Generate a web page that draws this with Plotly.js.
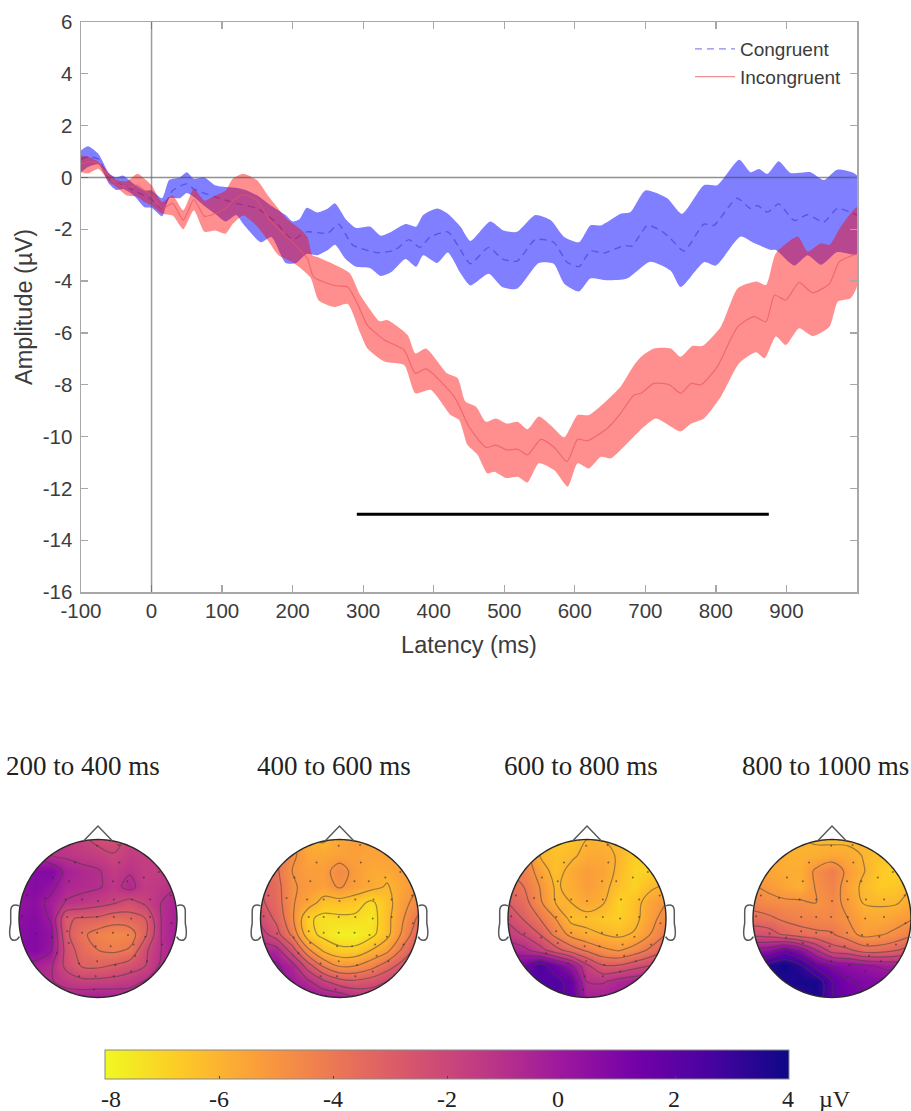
<!DOCTYPE html>
<html><head><meta charset="utf-8">
<script src="https://cdn.plot.ly/plotly-3.0.1.min.js"></script>
<style>html,body{margin:0;padding:0;background:#fff}#c{width:911px;height:1111px}</style>
</head><body><div id="c"></div>
<script>
// ---------- ERP waveforms (latency ms, amplitude µV) ----------
const congruentUpperT=[-100,-90,-75,-60,-50,-40,-25,-10,0,15,25,40,50,60,75,90,105,120,135,150,170,190,200,210,220,235,250,260,275,290,310,325,340,360,375,385,405,420,438,452,480,499,518,544,566,585,606,622,637,665,679,700,731,752,783,802,833,849,861,873,889,906,934,953,972,1000];
const congruentUpperV=[1.04,1.2,.9,.15,0,.07,-.25,-.5,-.5,-.8,-.1,0,.2,-.05,0,-.3,-.37,-.4,-.5,-.7,-1.1,-1.45,-1.7,-1.6,-1.17,-1.35,-1.2,-1,-1.6,-1.95,-1.9,-2.25,-2.1,-1.8,-1.9,-1.45,-1.2,-1.4,-1.9,-2.45,-1.7,-2.05,-2.1,-1.45,-1.65,-2.3,-2.5,-1.85,-1.85,-1.4,-1.33,-.5,-.8,-1.4,-.3,-.3,.68,.2,.33,.14,.63,.17,.2,-.1,.3,.08];
const congruentLowerT=[-100,-90,-75,-60,-50,-40,-25,-10,0,15,25,40,50,60,75,90,105,120,130,155,170,190,205,220,235,250,260,275,290,310,325,340,360,375,385,405,420,438,452,478,497,518,549,570,585,606,622,646,674,707,736,750,783,800,835,854,878,885,911,930,949,972,1000];
const congruentLowerV=[.2,.4,.5,-.25,-.48,-.45,-.7,-1.15,-1.17,-1.5,-.8,-.8,-.6,-.75,-1.1,-1.4,-1.7,-1.45,-1.8,-2.5,-2.3,-3.3,-3.3,-2.95,-3,-2.8,-2.6,-3.15,-3.45,-3.5,-3.8,-3.65,-3.15,-3.45,-3,-3.3,-2.9,-3.7,-4.17,-3.72,-4.23,-4.3,-3.3,-3.33,-4.1,-4.4,-3.9,-3.97,-3.9,-3.25,-3.6,-4.23,-3.27,-3.4,-2.28,-2.53,-2.8,-2.8,-3.4,-3,-3.37,-2.88,-2.95];
const congruentMeanT=[-100,-90,-75,-60,-50,-25,0,15,30,50,60,90,120,150,175,200,220,250,265,285,320,345,365,380,395,420,438,452,478,497,518,544,570,589,606,622,641,670,681,703,722,736,755,783,797,830,849,859,873,889,911,930,953,972,1000];
const congruentMeanV=[.7,.8,.7,-.05,-.2,-.5,-.85,-1.2,-.5,-.25,-.45,-.75,-1,-1.2,-1.7,-2.4,-2.1,-2.15,-1.8,-2.6,-2.9,-2.8,-2.4,-2.7,-2.3,-2.1,-2.8,-3.33,-2.7,-3.14,-3.23,-2.4,-2.5,-3.27,-3.44,-2.84,-2.92,-2.63,-2.65,-1.85,-2.05,-2.37,-2.84,-1.8,-1.85,-.8,-1.2,-1.08,-1.34,-1.02,-1.66,-1.44,-1.72,-1.2,-1.46];

const incongruentUpperT=[-100,-90,-75,-60,-50,-35,-20,-10,0,15,30,45,60,75,90,105,115,130,150,165,178,192,211,221,228,235,262,281,295,309,323,334,363,374,389,419,434,445,460,474,488,504,519,533,549,568,585,604,620,646,665,684,694,712,736,750,767,781,807,831,857,871,885,916,930,949,961,977,1000];
const incongruentUpperV=[.85,.8,.6,.15,-.1,-.15,.14,-.05,-.3,-.95,-.7,-1.27,-.44,-.9,-.7,-.5,-.05,.14,-.12,-.7,-1.15,-1.6,-2,-2.3,-3,-3.07,-3.4,-3.7,-4.5,-5.07,-5.55,-5.5,-6.08,-6.79,-6.6,-7.56,-7.75,-8.65,-8.85,-9.43,-9.3,-9.5,-9.43,-9.72,-9.23,-9.62,-10.03,-9.17,-9.17,-8.59,-8.07,-7.24,-6.92,-6.6,-6.6,-6.92,-6.5,-6.5,-5.76,-4.28,-4.02,-4.15,-2.93,-2.28,-2.86,-2.54,-2.6,-1.9,-1.15];
const incongruentLowerT=[-100,-90,-75,-60,-50,-35,-20,-10,0,15,30,45,60,75,90,105,115,130,150,165,180,200,225,237,259,278,296,306,330,358,374,396,424,436,448,462,476,486,502,519,533,549,571,590,604,620,637,651,679,698,715,750,765,783,807,833,857,869,885,899,918,937,961,973,991,1000];
const incongruentLowerV=[.2,.15,.33,-.18,-.37,-.7,-.75,-.95,-1.08,-1.4,-1.47,-2,-1.27,-2.1,-2.05,-2.17,-1.8,-1.47,-1.9,-2.43,-3,-3.27,-3.85,-4.75,-5,-4.88,-6.01,-6.6,-7.1,-7.24,-8.33,-8.2,-9.17,-9.36,-10.33,-10.7,-11.42,-11.36,-11.6,-11.55,-11.77,-11.03,-11.3,-11.93,-11.03,-11.23,-10.78,-10.84,-10.13,-9.62,-9.3,-9.8,-9.5,-9.3,-8.46,-7.17,-6.75,-6.98,-6.14,-6.47,-5.82,-6.12,-5.76,-4.79,-4.66,-4.2];
const incongruentMeanT=[-100,-90,-75,-60,-50,-35,-20,-10,0,15,30,45,60,75,90,105,115,130,150,165,180,200,221,230,259,278,292,306,330,358,374,389,429,450,474,488,504,519,533,552,571,589,604,618,646,663,684,694,712,734,750,765,779,802,831,854,871,883,899,918,937,961,975,1000];
const incongruentMeanV=[.5,.6,.55,0,-.2,-.4,-.3,-.5,-.7,-1.2,-1,-1.65,-.85,-1.5,-1.4,-1.2,-.9,-.65,-.9,-1.55,-2,-2.5,-3.14,-3.85,-4.17,-4.23,-4.88,-5.7,-6.27,-6.66,-7.56,-7.39,-8.46,-9.62,-10.42,-10.33,-10.52,-10.49,-10.71,-10.11,-10.42,-10.97,-10.11,-10.16,-9.68,-9.17,-8.4,-8.33,-7.95,-8,-8.33,-7.95,-8,-7.3,-5.76,-5.37,-5.57,-4.54,-4.73,-4.05,-4.45,-4.1,-3.25,-2.95];

const sigBarT=[291,875];
const sigBarV=[-13,-13];
const xTicks=[-100,0,100,200,300,400,500,600,700,800,900];
const yTicks=[-16,-14,-12,-10,-8,-6,-4,-2,0,2,4,6];

// ---------- Scalp maps: µV values on an 11 x 11 grid, rows from front (y=1) to back (y=-1) ----------
const gridAxis=[-1,-.8,-.6,-.4,-.2,0,.2,.4,.6,.8,1];
const titles=['200 to 400 ms','400 to 600 ms','600 to 800 ms','800 to 1000 ms'];
const map200=[
[-1,-1,-1.1,-1.4,-1.8,-2.3,-2.3,-1.8,-1.4,-1.2,-1.2],
[-.3,-.3,-1,-1.2,-1.4,-1.6,-1.95,-1.5,-1.6,-1.4,-1.3],
[0,.7,.9,-.3,-.7,-.9,-1.5,-1.1,-1.6,-1.5,-1.2],
[.3,.8,.3,-.6,-.8,-.9,-1.3,-.7,-1.5,-1.3,-1],
[.3,.5,-.3,-1.1,-1.3,-1.6,-1.9,-2.4,-1.8,-1,-.4],
[.5,.7,-.1,-2.9,-3.1,-3.2,-3.6,-3.4,-3,-1,-.3],
[.6,.8,.3,-2.8,-3.8,-4.4,-4.6,-4.5,-3.2,-1,-.2],
[.5,.8,.1,-2.4,-3.5,-4,-4.2,-3.9,-2.2,-1,-.4],
[-.4,-.4,-.8,-2.3,-3.1,-3.2,-2.9,-2.5,-2,-.8,-.5],
[-.9,-.9,-.9,-1.4,-1.7,-1.7,-1.6,-1.4,-.9,-.6,-.5],
[-.5,-.5,-.4,-.4,-.3,-.2,-.3,-.4,-.5,-.5,-.5]];
const map400=[
[-4,-4,-4.6,-6,-6.1,-5.6,-5.3,-5.4,-5.4,-5.2,-5],
[-3.9,-3.9,-4.8,-5.5,-5.6,-5.4,-5.4,-5.5,-5.4,-5.2,-5],
[-3.3,-3.8,-5,-5.3,-5.3,-4.6,-5.3,-5.7,-5.7,-5.4,-5],
[-3,-3.6,-4.9,-5.2,-5.4,-4.9,-5.4,-5.7,-6.1,-5.5,-5],
[-2.8,-3.5,-4.9,-5.5,-6.4,-6.4,-6.6,-7.2,-6.4,-5.3,-4.6],
[-2.3,-3.2,-4.8,-6.8,-7.3,-7.2,-7.2,-7.5,-6.3,-5.1,-3.8],
[-1.5,-2.6,-4.2,-6.6,-7.3,-7.8,-7.8,-7.3,-6.3,-4.8,-3.2],
[-.5,-.6,-2.5,-4.8,-6.2,-6.7,-6.7,-6,-5.3,-3.8,-2.5],
[.2,.2,-.6,-2.5,-4.2,-5.1,-5,-4.4,-3.5,-2.6,-2],
[.2,.2,-.1,-.8,-1.8,-2.6,-2.8,-2.5,-2,-1.8,-1.6],
[.2,.2,.2,.2,-.1,-.3,-1,-1.2,-1.4,-1.5,-1.5]];
const map600=[
[-4.5,-4.5,-6,-6.5,-6.5,-6,-6,-6.2,-6.6,-6.6,-6.6],
[-4.4,-4.4,-6,-6.4,-6.2,-5.7,-5.7,-6.1,-6.8,-6.9,-6.9],
[-4,-4.3,-5.4,-6.4,-5.7,-5.3,-5.5,-6.2,-6.9,-6.9,-6.8],
[-3.6,-4,-5,-6.1,-5.8,-5.3,-5.7,-6.4,-6.95,-6.2,-5.8],
[-3,-3.6,-4.8,-6,-6,-5.6,-5.9,-6.95,-6.4,-5.5,-5],
[-2.2,-3.1,-4,-5,-6.3,-6.3,-6.6,-6.8,-6.3,-5.4,-4.5],
[-1.5,-2.1,-3,-4.3,-5.3,-5.8,-6,-6.2,-5.9,-5,-4],
[-.4,-.7,-1.6,-2.6,-3.5,-4.2,-4.8,-5.1,-4.6,-3.8,-3],
[1,1.2,2.5,1.4,.2,-1.8,-2.9,-2.9,-2.4,-2,-2],
[2,2,2.2,2.4,1.6,-1,-1.1,-.6,-.3,-.3,-.3],
[2,2,2,2.2,1.8,-.4,-.3,0,0,0,0]];
const map800=[
[-5.6,-5.6,-5.8,-6,-6.1,-6.2,-6.2,-6.2,-6.4,-6.5,-6.5],
[-5.5,-5.5,-5.9,-5.9,-5.8,-5.6,-5.7,-6.05,-6.5,-6.7,-6.7],
[-5.3,-5.6,-5.8,-5.8,-4.8,-4.2,-5.3,-5.95,-6.6,-6.95,-6.8],
[-4.9,-5.2,-5.6,-5.9,-4.9,-4.4,-5.5,-6.2,-6.7,-6.6,-6],
[-4.4,-4.7,-4.8,-4.8,-5,-4.6,-5.3,-6.05,-6.1,-6.1,-5.7],
[-3.6,-3.8,-4.2,-4.4,-4.5,-4.6,-5,-5.6,-5.7,-5.4,-5.1],
[-2.3,-2.5,-3.2,-3.6,-3.8,-3.9,-4.6,-5.3,-5.1,-4.8,-4.2],
[.2,.5,1.5,.6,-1,-2.5,-2.8,-3.5,-3.5,-3.1,-2.6],
[3,3.5,4,3.2,1.6,.8,.5,.2,-.1,-.3,-.3],
[3.5,3.5,3.5,3.8,3.8,2,1.1,.9,.8,.5,.5],
[3.5,3.5,3.5,3,3.8,2,1.5,1,1,.8,.8]];
const maps=[map200,map400,map600,map800];
// electrode positions in head units
const elecX=[-.29,-.01,.26,.27,-.57,-.37,.19,.37,.58,.77,-.9,-.67,-.41,-.2,0,.2,.43,.66,.92,-.96,-.39,-.2,-.01,.2,.42,.66,-.79,-.39,-.2,-.01,.19,.38,.6,.93,-.58,-.37,-.03,.16,.45,.81,-.52,-.24,-.01,.22,.47,.62,-.03,.2,.42,-.24,-.05];
const elecY=[.71,.92,.93,.71,.52,.47,.47,.47,.52,.59,.29,.26,.24,.24,.22,.24,.24,.24,.29,.03,.02,.02,.02,.02,0,.02,-.19,-.16,-.18,-.18,-.18,-.21,-.23,-.06,-.24,-.31,-.35,-.35,-.33,-.33,-.44,-.57,-.54,-.59,-.47,-.54,-.73,-.73,-.67,-.73,-.9];
const cbarTicks=[-8,-6,-4,-2,0,2,4];
const cbarLabels=['-8','-6','-4','-2','0','2','4'];
const plasmaScale=[[0,'#f0f921'],[.11,'#fdca26'],[.22,'#fb9f3a'],[.33,'#ed7953'],[.44,'#d8576b'],[.56,'#bd3786'],[.67,'#9c179e'],[.78,'#7201a8'],[.89,'#46039f'],[1,'#0d0887']];

// ---------- layout geometry ----------
const W=911,H=1111,R=79,headCY=918.5,headCX=[98,339.5,587,832];
const sans='"Liberation Sans",Arial,sans-serif', serif='"Liberation Serif","Times New Roman",serif';
const traces=[];
const band=(tu,vu,tl,vl,color)=>({x:tu.concat(tl.slice().reverse()),y:vu.concat(vl.slice().reverse()),mode:'lines',fill:'toself',fillcolor:color,line:{width:0,shape:'spline',smoothing:.6},showlegend:false,hoverinfo:'skip',xaxis:'x',yaxis:'y'});
traces.push(band(congruentUpperT,congruentUpperV,congruentLowerT,congruentLowerV,'rgba(0,0,255,.5)'));
traces.push({x:congruentMeanT,y:congruentMeanV,name:'Congruent',mode:'lines',line:{color:'rgba(60,60,215,.6)',width:1.4,dash:'7px,5px',shape:'spline',smoothing:.6},xaxis:'x',yaxis:'y'});
traces.push(band(incongruentUpperT,incongruentUpperV,incongruentLowerT,incongruentLowerV,'rgba(255,0,0,.44)'));
traces.push({x:incongruentMeanT,y:incongruentMeanV,name:'Incongruent',mode:'lines',line:{color:'rgba(230,85,95,.65)',width:1.2,shape:'spline',smoothing:.6},xaxis:'x',yaxis:'y'});
traces.push({x:sigBarT,y:sigBarV,mode:'lines',line:{color:'#000',width:3},showlegend:false,hoverinfo:'skip',xaxis:'x',yaxis:'y'});

const shapes=[
 {type:'line',xref:'x',yref:'y',x0:-100,x1:1000,y0:0,y1:0,line:{color:'rgba(70,70,70,.6)',width:1.5},layer:'above'},
 {type:'line',xref:'x',yref:'y',x0:0,x1:0,y0:-16,y1:6,line:{color:'rgba(90,90,90,.6)',width:1.5},layer:'above'}
];
const axisStyle={ticks:'inside',ticklen:7,tickcolor:'#a8a8a8',tickwidth:1.3,showline:true,linecolor:'#a8a8a8',linewidth:1.5,mirror:'ticks',showgrid:false,zeroline:false,tickfont:{family:sans,size:20.5,color:'#3c3c3c'},fixedrange:true};
const layout={width:W,height:H,margin:{l:0,r:0,t:0,b:0,autoexpand:false},paper_bgcolor:'#fff',plot_bgcolor:'#fff',showlegend:true,
 font:{family:sans,size:20,color:'#3c3c3c'},
 legend:{x:690/W,y:1-30/H,xanchor:'left',yanchor:'top',bgcolor:'rgba(0,0,0,0)',font:{family:sans,size:19,color:'#3c3c3c'},itemwidth:40,tracegroupgap:0},
 xaxis:Object.assign({},axisStyle,{domain:[81/W,857/W],range:[-100,1000],tickvals:xTicks,ticktext:xTicks.map(String),anchor:'y',title:{text:'Latency (ms)',font:{family:sans,size:23.5,color:'#3c3c3c'},standoff:15}}),
 yaxis:Object.assign({},axisStyle,{domain:[1-592/H,1-22/H],range:[-16,6],tickvals:yTicks,ticktext:yTicks.map(String),ticklabelstandoff:3,anchor:'x',title:{text:'Amplitude (µV)',font:{family:sans,size:23.5,color:'#3c3c3c'},standoff:3}}),
 shapes:shapes,
 annotations:[]
};

// scalp outline helpers (polygon from the unit circle, in head units)
const circlePts=[];for(let i=0;i<=120;i++){const a=2*Math.PI*i/120;circlePts.push([Math.cos(a),Math.sin(a)]);}
const circlePath=circlePts.map((p,i)=>(i?'L':'M')+p[0].toFixed(4)+' '+p[1].toFixed(4)).join(' ')+' Z';

maps.forEach((m,i)=>{
 const n=i+2, xa='x'+n, ya='y'+n, cx=headCX[i];
 const x0=-1.2, x1=i===3?1.0:1.2, y0=-1.05, y1=1.25;
 const pxL=cx+x0*R, pxR=cx+x1*R, pyT=headCY-y1*R, pyB=headCY-y0*R;
 layout['xaxis'+n]={domain:[pxL/W,Math.min(1,pxR/W)],range:[x0,x1],visible:false,fixedrange:true,anchor:ya};
 layout['yaxis'+n]={domain:[1-pyB/H,1-pyT/H],range:[y0,y1],visible:false,fixedrange:true,anchor:xa};
 traces.push({type:'contour',x:gridAxis,y:gridAxis,z:m.slice().reverse(),xaxis:xa,yaxis:ya,zmin:-8,zmax:4,zauto:false,autocontour:false,colorscale:plasmaScale,showscale:false,contours:{start:-8,end:4,size:1,coloring:'heatmap',showlines:true},line:{color:'rgba(70,60,60,.5)',width:1.2,smoothing:1},hoverinfo:'skip',showlegend:false});
 traces.push({x:elecX,y:elecY,mode:'markers',marker:{size:2,color:'rgba(50,40,50,.6)'},xaxis:xa,yaxis:ya,hoverinfo:'skip',showlegend:false});
 // white mask with a circular hole, then head, ears and nose
 shapes.push({type:'path',xref:xa,yref:ya,layer:'above',fillrule:'evenodd',fillcolor:'#fff',line:{width:0},path:`M -1.3 -1.2 L 1.3 -1.2 L 1.3 1.3 L -1.3 1.3 Z ${circlePath}`});
 shapes.push({type:'path',xref:xa,yref:ya,layer:'above',line:{color:'#2a2a2a',width:1.4},path:circlePath});
 const ln={color:'#5a5a5a',width:1.5};
 shapes.push({type:'path',xref:xa,yref:ya,layer:'above',line:ln,path:'M -.18 .985 L 0 1.17 L .18 .985'});
 [-1,1].forEach(s=>{
  shapes.push({type:'path',xref:xa,yref:ya,layer:'above',line:ln,path:`M ${s*1.0} .16 C ${s*1.04} .18 ${s*1.1} .18 ${s*1.105} .1 L ${s*1.105} -.06 C ${s*1.12} -.14 ${s*1.125} -.2 ${s*1.11} -.24 C ${s*1.09} -.29 ${s*1.03} -.29 ${s*.995} -.23`});
 });
 layout.annotations.push({xref:'paper',yref:'paper',x:[82.5,333.5,581,825][i]/W,y:1-766/H,text:titles[i],showarrow:false,xanchor:'center',yanchor:'middle',font:{family:serif,size:27,color:'#222'}});
});

// colour scale: carried by an otherwise hidden marker (covered by the mask of the first map)
traces.push({x:[1.15,1.15],y:[-1,-1],mode:'markers',xaxis:'x2',yaxis:'y2',hoverinfo:'skip',showlegend:false,
 marker:{size:1,color:[cbarTicks[0],cbarTicks[cbarTicks.length-1]],cmin:-8,cmax:4,colorscale:plasmaScale,showscale:true,
 colorbar:{orientation:'h',x:105/W,xanchor:'left',xpad:0,y:1-1050/H,yanchor:'top',ypad:0,lenmode:'pixels',len:684,thicknessmode:'pixels',thickness:29,tickvals:cbarTicks,showticklabels:false,ticks:'inside',ticklen:3,tickcolor:'#444',outlinecolor:'#888',outlinewidth:1}}});
const cbarLabelX=[111,219,333,447,558,674,788];
cbarLabels.forEach((t,i)=>layout.annotations.push({xref:'paper',yref:'paper',x:cbarLabelX[i]/W,y:1-1099/H,text:t,showarrow:false,xanchor:'center',yanchor:'middle',font:{family:serif,size:24,color:'#222'}}));
layout.annotations.push({xref:'paper',yref:'paper',x:835/W,y:1-1099/H,text:'µV',showarrow:false,xanchor:'center',yanchor:'middle',font:{family:serif,size:24,color:'#222'}});

Plotly.newPlot('c',traces,layout,{displayModeBar:false,staticPlot:true});
</script></body></html>
